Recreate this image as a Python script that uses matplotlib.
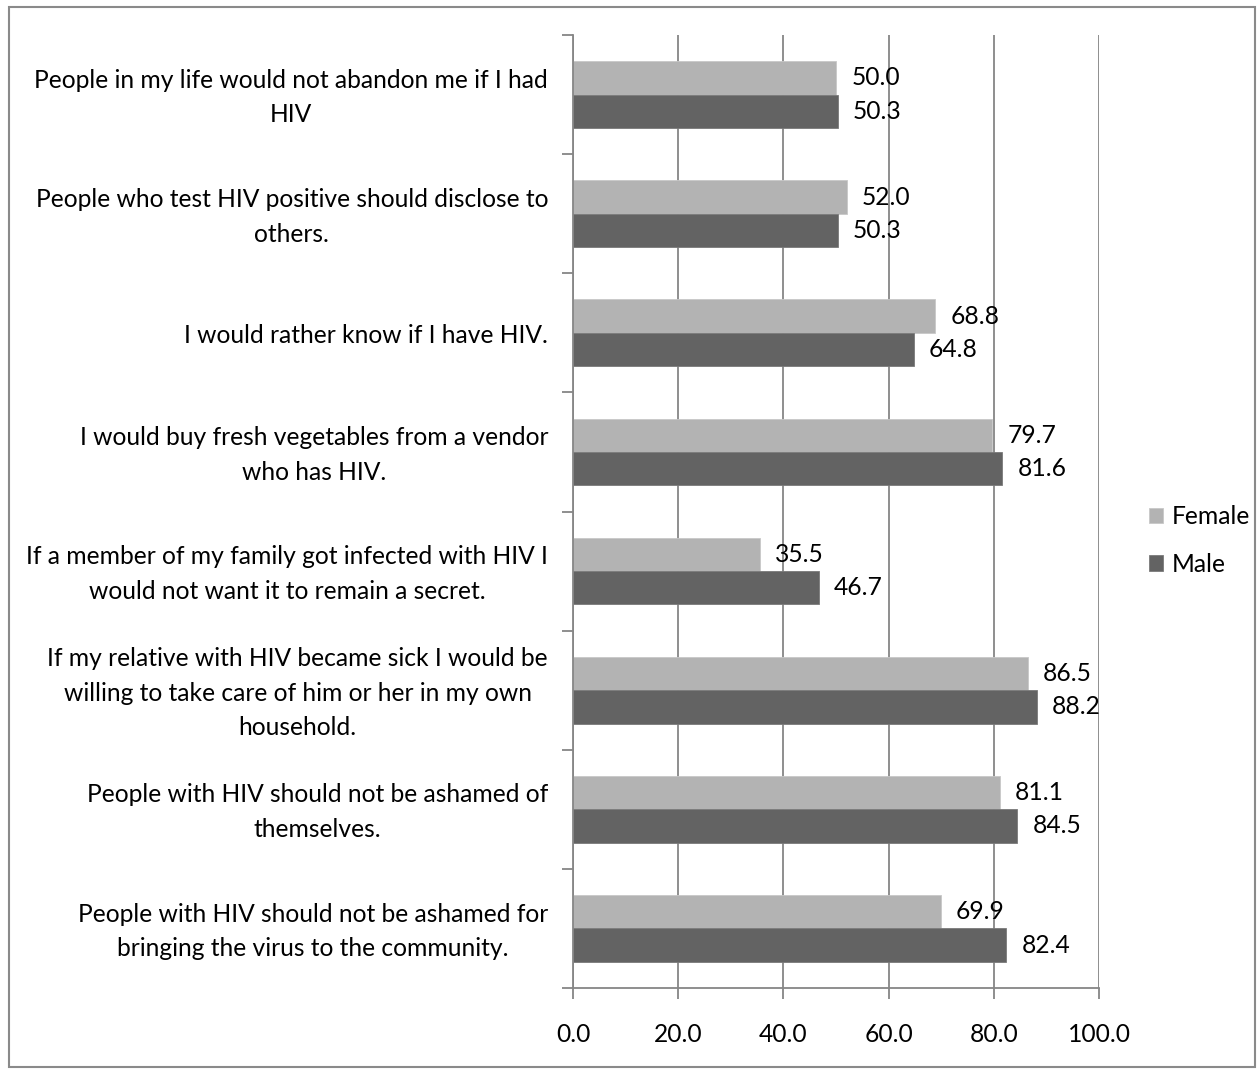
import matplotlib
matplotlib.use("Agg")
import matplotlib.pyplot as plt
import numpy as np
from matplotlib.patches import Rectangle

categories = [
    "People in my life would not abandon me if I had\nHIV",
    "People who test HIV positive should disclose to\nothers.",
    "I would rather know if I have HIV.",
    "I would buy fresh vegetables from a vendor\nwho has HIV.",
    "If a member of my family got infected with HIV I\nwould not want it to remain a secret.",
    "If my relative with HIV became sick I would be\nwilling to take care of him or her in my own\nhousehold.",
    "People with HIV should not be ashamed of\nthemselves.",
    "People with HIV should not be ashamed for\nbringing the virus to the community.",
]
female = [50.0, 52.0, 68.8, 79.7, 35.5, 86.5, 81.1, 69.9]
male = [50.3, 50.3, 64.8, 81.6, 46.7, 88.2, 84.5, 82.4]
x_ticks = [0, 20, 40, 60, 80, 100]

plt.rcParams["font.family"] = ["Lato", "DejaVu Sans"]
FS = 17.7

fig = plt.figure(figsize=(12.57, 10.69), dpi=100)
ax = fig.add_axes([573 / 1257, 81 / 1069, 526 / 1257, 953 / 1069])

axis_gray = "#868686"
c_female = "#B3B3B3"
c_male = "#636363"

y = np.arange(len(categories))
h = 0.28
ax.barh(y - h / 2, female, height=h, color=c_female, edgecolor="#c8c8c8", linewidth=0.6, label="Female", zorder=2)
ax.barh(y + h / 2, male, height=h, color=c_male, edgecolor="#7a7a7a", linewidth=0.6, label="Male", zorder=2)

for yi, f, m in zip(y, female, male):
    ax.text(f + 2.9, yi - h / 2, f"{f:.1f}", va="center", ha="left", fontsize=FS, zorder=1)
    ax.text(m + 2.9, yi + h / 2, f"{m:.1f}", va="center", ha="left", fontsize=FS, zorder=1)

ax.set_xlim(0, 100)
ax.set_ylim(len(categories) - 0.5, -0.5)
ax.set_xticks(x_ticks)
ax.set_xticklabels([f"{t:.1f}" for t in x_ticks], fontsize=FS)
ax.grid(axis="x", color=axis_gray, linewidth=1.3, zorder=0)
ax.set_axisbelow(True)

# band boundary ticks on the category axis; labels are placed as centred text blocks
ax.set_yticks(np.arange(-0.5, len(categories), 1.0))
ax.set_yticklabels([])
for yi, cat in zip(y, categories):
    ax.annotate(cat, xy=(0, yi), xycoords=("axes fraction", "data"), xytext=(-25, -3),
                textcoords="offset pixels", ha="right", va="center", fontsize=FS,
                multialignment="center", linespacing=1.62)

for s in ["top", "right"]:
    ax.spines[s].set_visible(False)
for s in ["left", "bottom"]:
    ax.spines[s].set_color(axis_gray)
    ax.spines[s].set_linewidth(1.3)
ax.tick_params(axis="both", colors=axis_gray, length=8, width=1.3, labelcolor="black")
ax.tick_params(axis="x", pad=17)

leg = ax.legend(loc="center left", bbox_to_anchor=(1.095, 0.4696), frameon=False, fontsize=FS,
                handlelength=0.58, handleheight=0.58, handletextpad=0.35, labelspacing=1.0,
                borderpad=0, borderaxespad=0)

fig.patches.append(Rectangle((9 / 1257, 2 / 1069), 1246 / 1257, 1060 / 1069, transform=fig.transFigure,
                             fill=False, edgecolor="#8a8a8a", linewidth=1.5))

fig.savefig("out.png", dpi=100)
